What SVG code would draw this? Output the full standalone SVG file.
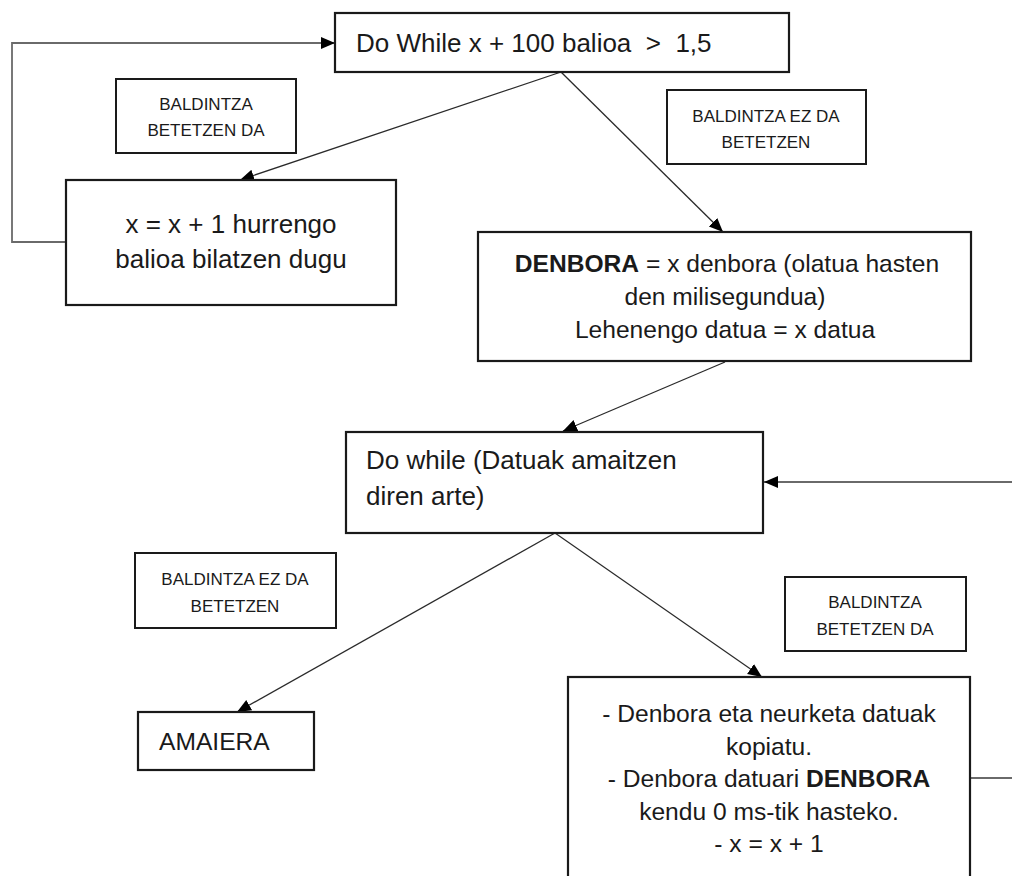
<svg xmlns="http://www.w3.org/2000/svg" width="1012" height="876" viewBox="0 0 1012 876">
  <style>
    .box { fill: #ffffff; stroke: #1a1a1a; stroke-width: 2.2; }
    .lbl { fill: #ffffff; stroke: #1a1a1a; stroke-width: 2; }
    .t { font-family: "Liberation Sans", Arial, sans-serif; fill: #1a1a1a; }
    .big { font-size: 26px; }
    .mid { font-size: 24.6px; }
    .small { font-size: 17px; }
    .c { text-anchor: middle; }
    .b { font-weight: bold; }
    .edge { fill: none; stroke: #2a2a2a; stroke-width: 1.3; }
    .loop { fill: none; stroke: #6a6a6a; stroke-width: 1.8; }
  </style>
  <defs>
    <marker id="arrow" markerUnits="userSpaceOnUse" markerWidth="15" markerHeight="15" viewBox="0 0 15 15" refX="14" refY="7.5" orient="auto">
      <path d="M0,1.5 L14,7.5 L0,13.5 Z" fill="#000000"/>
    </marker>
  </defs>
  <rect x="0" y="0" width="1012" height="876" fill="#ffffff"/>

  <g id="connectors">
    <line class="edge" x1="561" y1="72" x2="240" y2="180" marker-end="url(#arrow)"/>
    <line class="edge" x1="561" y1="72" x2="723" y2="232" marker-end="url(#arrow)"/>
    <polyline class="loop" points="66,242 12,242 12,43 335,43" marker-end="url(#arrow)"/>
    <line class="edge" x1="725" y1="362" x2="563" y2="431" marker-end="url(#arrow)"/>
    <line class="loop" x1="1012" y1="482" x2="764" y2="482" marker-end="url(#arrow)"/>
    <line class="edge" x1="555" y1="533" x2="237" y2="712" marker-end="url(#arrow)"/>
    <line class="edge" x1="555" y1="533" x2="762" y2="677" marker-end="url(#arrow)"/>
    <line class="loop" x1="970" y1="778" x2="1012" y2="778"/>
  </g>

  <g id="do-while-outer">
    <rect class="box" x="335" y="13" width="454" height="59"/>
    <text class="t big" x="356" y="52" xml:space="preserve">Do While x + 100 balioa  &gt;  1,5</text>
  </g>

  <g id="label-yes-1">
    <rect class="lbl" x="116" y="79" width="180" height="74"/>
    <text class="t small c" x="206" y="110">BALDINTZA</text>
    <text class="t small c" x="206" y="136">BETETZEN DA</text>
  </g>

  <g id="label-no-1">
    <rect class="lbl" x="667" y="90" width="199" height="74"/>
    <text class="t small c" x="766" y="122">BALDINTZA EZ DA</text>
    <text class="t small c" x="766" y="148">BETETZEN</text>
  </g>

  <g id="next-value">
    <rect class="box" x="66" y="180" width="330" height="125"/>
    <text class="t big c" x="231" y="233">x = x + 1 hurrengo</text>
    <text class="t big c" x="231" y="268">balioa bilatzen dugu</text>
  </g>

  <g id="denbora">
    <rect class="box" x="478" y="232" width="493" height="129"/>
    <text class="t mid c" x="727" y="272"><tspan class="b">DENBORA</tspan> = x denbora (olatua hasten</text>
    <text class="t mid c" x="725" y="305">den milisegundua)</text>
    <text class="t mid c" x="725" y="338">Lehenengo datua = x datua</text>
  </g>

  <g id="do-while-inner">
    <rect class="box" x="346" y="432" width="417" height="101"/>
    <text class="t big" x="366" y="469">Do while (Datuak amaitzen</text>
    <text class="t big" x="366" y="505">diren arte)</text>
  </g>

  <g id="label-no-2">
    <rect class="lbl" x="135" y="553" width="201" height="75"/>
    <text class="t small c" x="235" y="585">BALDINTZA EZ DA</text>
    <text class="t small c" x="235" y="612">BETETZEN</text>
  </g>

  <g id="label-yes-2">
    <rect class="lbl" x="785" y="577" width="181" height="74"/>
    <text class="t small c" x="875" y="608">BALDINTZA</text>
    <text class="t small c" x="875" y="635">BETETZEN DA</text>
  </g>

  <g id="amaiera">
    <rect class="box" x="138" y="712" width="176" height="58"/>
    <text class="t mid" x="159" y="750">AMAIERA</text>
  </g>

  <g id="copy-step">
    <rect class="box" x="568" y="677" width="402" height="220"/>
    <text class="t mid c" x="769" y="722">- Denbora eta neurketa datuak</text>
    <text class="t mid c" x="769" y="755">kopiatu.</text>
    <text class="t mid c" x="769" y="787">- Denbora datuari <tspan class="b">DENBORA</tspan></text>
    <text class="t mid c" x="769" y="820">kendu 0 ms-tik hasteko.</text>
    <text class="t mid c" x="769" y="852">- x = x + 1</text>
  </g>
</svg>
